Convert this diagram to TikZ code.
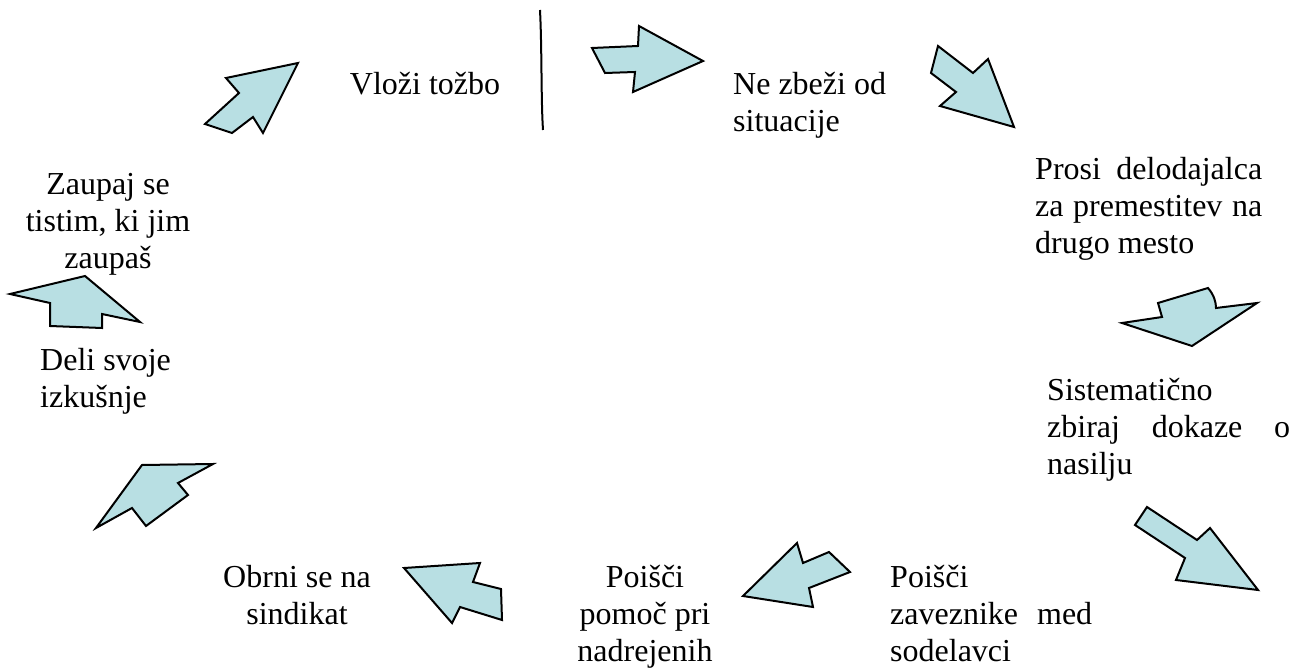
\documentclass[tikz,border=0pt]{standalone}
\usepackage{fontspec}
\setmainfont{Liberation Serif}
\definecolor{arrowfill}{RGB}{184,223,227}
\begin{document}
\begin{tikzpicture}[x=1pt,y=-1pt,
  blockarrow/.style={draw=black,fill=arrowfill,line width=2pt,line join=miter},
  lbl/.style={inner sep=0pt,font=\fontsize{32}{37}\selectfont,anchor=base west},
  clbl/.style={inner sep=0pt,font=\fontsize{32}{37}\selectfont,anchor=base,align=center}]
\useasboundingbox (0,0) rectangle (1306,668);
% texts (anchor = baseline of the last line)
\node[clbl] (t1) at (425,95) {Vloži tožbo};
\node[lbl,align=left] (t2) at (733,132) {Ne zbeži od\\situacije};
\node[lbl,align=left] (t3) at (1035,254) {\makebox[227pt][s]{Prosi  delodajalca}\\\makebox[227pt][s]{za premestitev na}\\drugo mesto};
\node[lbl,align=left] (t4) at (1047,474) {Sistematično\\\makebox[243pt][s]{zbiraj dokaze o}\\nasilju};
\node[lbl,align=left] (t5) at (890,661) {Poišči\\\makebox[202pt][s]{zaveznike med}\\sodelavci};
\node[clbl] (t6) at (645,661) {Poišči\\pomoč pri\\nadrejenih};
\node[clbl] (t7) at (297,624) {Obrni se na\\sindikat};
\node[lbl,align=left] (t8) at (40,407) {Deli svoje\\izkušnje};
\node[clbl] (t9) at (108,269) {Zaupaj se\\tistim, ki jim\\zaupaš};
% divider line
\draw[line width=2pt] (540,10) .. controls (542,50) and (541,100) .. (543,130);
% arrows
\draw[blockarrow] (592,48) -- (638,46) -- (639,26) -- (703,61) -- (633,92) -- (635,72) -- (605,73) -- cycle;
\draw[blockarrow] (938,46) -- (973,73) -- (988,59) -- (1014,127) -- (940,106) -- (956,92) -- (931,73) -- cycle;
\draw[blockarrow] (1122,323) -- (1162,317) -- (1158,303) -- (1208,288) .. controls (1214,295) and (1216,302) .. (1216,308) -- (1257,303) -- (1192,346) -- cycle;
\draw[blockarrow] (1135,525) -- (1147,507) -- (1197,540) -- (1210,528) -- (1258,590) -- (1176,580) -- (1185,558) -- cycle;
\draw[blockarrow] (743,596) -- (797,543) -- (803,563) -- (829,552) -- (850,572) -- (809,588) -- (813,607) -- cycle;
\draw[blockarrow] (404,568) -- (480,563) -- (473,582) -- (501,589) -- (502,620) -- (460,607) -- (452,623) -- cycle;
\draw[blockarrow] (142,465) -- (213,464) -- (178,483) -- (188,495) -- (146,526) -- (132,508) -- (96,528) -- cycle;
\draw[blockarrow] (10,294) -- (85,276) -- (140,322) -- (102,314) -- (102,328) -- (50,326) -- (50,303) -- cycle;
\draw[blockarrow] (226,78) -- (298,63) -- (263,133) -- (253,117) -- (232,133) -- (205,124) -- (239,93) -- cycle;
\end{tikzpicture}
\end{document}
